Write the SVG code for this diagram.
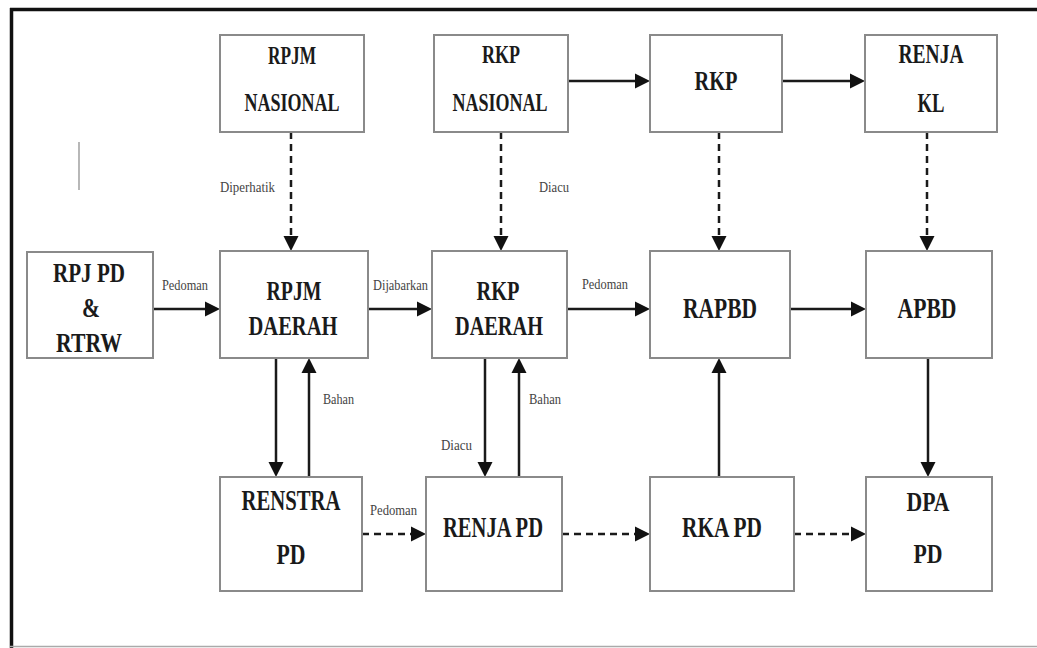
<svg xmlns="http://www.w3.org/2000/svg" width="1037" height="648" viewBox="0 0 1037 648">
<style>
.box{fill:#fff;stroke:#8a8a8a;stroke-width:2}
.t{font-family:"Liberation Serif",serif;font-weight:bold;fill:#1a1a1a;text-anchor:middle}
.l{font-family:"Liberation Serif",serif;font-size:14px;fill:#444}
.c{stroke:#1a1a1a;stroke-width:2.5;fill:none;marker-end:url(#ah)}
.d{stroke-dasharray:7 5}
</style>
<defs>
<marker id="ah" markerUnits="userSpaceOnUse" markerWidth="16" markerHeight="16" refX="9" refY="8" orient="auto">
<path d="M0,0.5 L15,8 L0,15.5 z" fill="#111"/>
</marker>
</defs>
<rect x="0" y="0" width="1037" height="648" fill="#fff"/>
<g id="frame">
<line x1="10" y1="9.5" x2="1037" y2="9.5" stroke="#111" stroke-width="3.5"/>
<line x1="11.5" y1="8" x2="11.5" y2="648" stroke="#111" stroke-width="3.5"/>
<line x1="10" y1="646.5" x2="1037" y2="646.5" stroke="#aaa" stroke-width="1.5"/>
<line x1="79" y1="142" x2="79" y2="190" stroke="#888" stroke-width="1.2"/>
</g>
<g id="connectors">
<line class="c d" x1="291" y1="132" x2="291" y2="245"/>
<line class="c d" x1="501" y1="132" x2="501" y2="245"/>
<line class="c d" x1="719" y1="132" x2="719" y2="245"/>
<line class="c d" x1="927" y1="132" x2="927" y2="245"/>
<line class="c" x1="568" y1="81" x2="644" y2="81"/>
<line class="c" x1="782" y1="81" x2="859" y2="81"/>
<line class="c" x1="153" y1="309" x2="214" y2="309"/>
<line class="c" x1="368" y1="309" x2="426" y2="309"/>
<line class="c" x1="567" y1="309" x2="644" y2="309"/>
<line class="c" x1="790" y1="309" x2="860" y2="309"/>
<line class="c" x1="276" y1="358" x2="276" y2="471"/>
<line class="c" x1="309" y1="477" x2="309" y2="364"/>
<line class="c" x1="485" y1="358" x2="485" y2="471"/>
<line class="c" x1="519" y1="477" x2="519" y2="364"/>
<line class="c" x1="719" y1="477" x2="719" y2="364"/>
<line class="c" x1="928" y1="358" x2="928" y2="471"/>
<line class="c d" x1="362" y1="534" x2="420" y2="534"/>
<line class="c d" x1="562" y1="534" x2="644" y2="534"/>
<line class="c d" x1="794" y1="534" x2="860" y2="534"/>
<text class="l" x="220" y="192" textLength="55" lengthAdjust="spacingAndGlyphs">Diperhatik</text>
<text class="l" x="539" y="192" textLength="30" lengthAdjust="spacingAndGlyphs">Diacu</text>
<text class="l" x="162" y="290" textLength="46" lengthAdjust="spacingAndGlyphs">Pedoman</text>
<text class="l" x="373" y="290" textLength="55" lengthAdjust="spacingAndGlyphs">Dijabarkan</text>
<text class="l" x="582" y="289" textLength="46" lengthAdjust="spacingAndGlyphs">Pedoman</text>
<text class="l" x="323" y="404" textLength="31" lengthAdjust="spacingAndGlyphs">Bahan</text>
<text class="l" x="529" y="404" textLength="32" lengthAdjust="spacingAndGlyphs">Bahan</text>
<text class="l" x="441" y="450" textLength="31" lengthAdjust="spacingAndGlyphs">Diacu</text>
<text class="l" x="370" y="515" textLength="47" lengthAdjust="spacingAndGlyphs">Pedoman</text>
</g>
<g id="rpjm-nasional">
<rect class="box" x="220" y="35" width="144" height="97"/>
<text class="t" font-size="26" x="292" y="64" textLength="48" lengthAdjust="spacingAndGlyphs">RPJM</text>
<text class="t" font-size="26" x="292" y="111" textLength="95" lengthAdjust="spacingAndGlyphs">NASIONAL</text>
</g>
<g id="rkp-nasional">
<rect class="box" x="434" y="35" width="134" height="97"/>
<text class="t" font-size="26" x="501" y="63" textLength="38" lengthAdjust="spacingAndGlyphs">RKP</text>
<text class="t" font-size="26" x="500" y="111" textLength="95" lengthAdjust="spacingAndGlyphs">NASIONAL</text>
</g>
<g id="rkp">
<rect class="box" x="650" y="35" width="132" height="97"/>
<text class="t" font-size="27" x="716" y="90" textLength="43" lengthAdjust="spacingAndGlyphs">RKP</text>
</g>
<g id="renja-kl">
<rect class="box" x="865" y="35" width="132" height="97"/>
<text class="t" font-size="27" x="931" y="63" textLength="65" lengthAdjust="spacingAndGlyphs">RENJA</text>
<text class="t" font-size="27" x="931" y="112" textLength="27" lengthAdjust="spacingAndGlyphs">KL</text>
</g>
<g id="rpj-pd-rtrw">
<rect class="box" x="27" y="252" width="126" height="106"/>
<text class="t" font-size="28" x="89" y="282" textLength="72" lengthAdjust="spacingAndGlyphs">RPJ PD</text>
<text class="t" font-size="28" x="91" y="317" textLength="18" lengthAdjust="spacingAndGlyphs">&amp;</text>
<text class="t" font-size="28" x="89" y="352" textLength="66" lengthAdjust="spacingAndGlyphs">RTRW</text>
</g>
<g id="rpjm-daerah">
<rect class="box" x="220" y="251" width="148" height="107"/>
<text class="t" font-size="27" x="294" y="300" textLength="55" lengthAdjust="spacingAndGlyphs">RPJM</text>
<text class="t" font-size="28" x="293" y="335" textLength="89" lengthAdjust="spacingAndGlyphs">DAERAH</text>
</g>
<g id="rkp-daerah">
<rect class="box" x="432" y="251" width="135" height="107"/>
<text class="t" font-size="27" x="498" y="300" textLength="43" lengthAdjust="spacingAndGlyphs">RKP</text>
<text class="t" font-size="28" x="499" y="335" textLength="88" lengthAdjust="spacingAndGlyphs">DAERAH</text>
</g>
<g id="rapbd">
<rect class="box" x="650" y="251" width="140" height="107"/>
<text class="t" font-size="29" x="720" y="318" textLength="74" lengthAdjust="spacingAndGlyphs">RAPBD</text>
</g>
<g id="apbd">
<rect class="box" x="866" y="251" width="126" height="107"/>
<text class="t" font-size="29" x="927" y="318" textLength="59" lengthAdjust="spacingAndGlyphs">APBD</text>
</g>
<g id="renstra-pd">
<rect class="box" x="220" y="477" width="142" height="114"/>
<text class="t" font-size="29" x="291" y="510" textLength="99" lengthAdjust="spacingAndGlyphs">RENSTRA</text>
<text class="t" font-size="29" x="291" y="564" textLength="29" lengthAdjust="spacingAndGlyphs">PD</text>
</g>
<g id="renja-pd">
<rect class="box" x="426" y="477" width="136" height="114"/>
<text class="t" font-size="29" x="493" y="537" textLength="100" lengthAdjust="spacingAndGlyphs">RENJA PD</text>
</g>
<g id="rka-pd">
<rect class="box" x="650" y="477" width="144" height="114"/>
<text class="t" font-size="29" x="722" y="537" textLength="80" lengthAdjust="spacingAndGlyphs">RKA PD</text>
</g>
<g id="dpa-pd">
<rect class="box" x="866" y="477" width="126" height="114"/>
<text class="t" font-size="28" x="928" y="511" textLength="43" lengthAdjust="spacingAndGlyphs">DPA</text>
<text class="t" font-size="28" x="928" y="563" textLength="29" lengthAdjust="spacingAndGlyphs">PD</text>
</g>
</svg>
